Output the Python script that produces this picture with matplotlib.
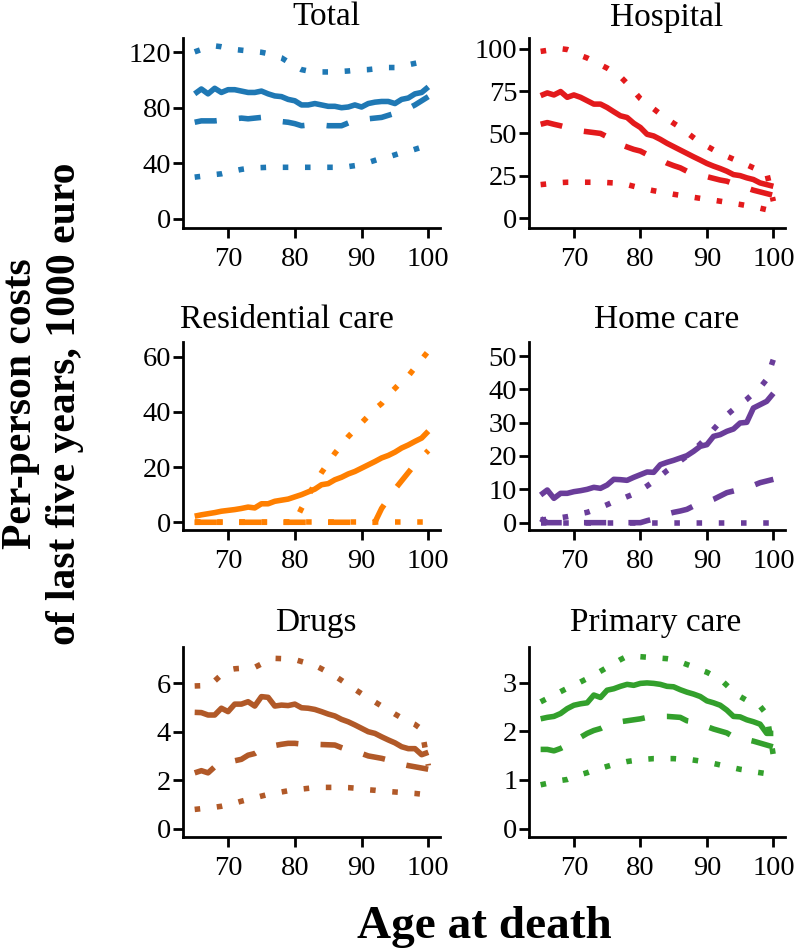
import numpy as np
import matplotlib
matplotlib.use('Agg')
import matplotlib.pyplot as plt

ages = np.arange(65, 101)

total_mean = [90, 93.5, 90, 94, 91, 93, 93, 92, 91, 91, 92, 90, 88.5, 88, 86, 85, 82, 82,
              83, 82, 81, 81, 80, 80.5, 82, 80.5, 83, 84, 84.5, 84.5, 83, 86, 87, 90, 91, 95]
total_median = [69.5, 70.5, 70.5, 70.5, 71, 71.5, 72, 72.5, 72, 72.5, 73, 72, 71, 70, 69.5, 68.5,
                67, 67.5, 68, 67.5, 67, 67, 67, 69, 71, 71.5, 72, 72.5, 73, 74.5, 76, 77.5, 79.5,
                82, 85, 88]
total_hi = [120.3, 122, 123.5, 124.6, 124, 123, 122, 121.5, 121, 120.5, 120, 119, 117.5, 116, 113,
            110, 107.5, 106.5, 106, 105.8, 105.8, 106, 106.2, 106.5, 107, 107.3, 107.5, 108, 108.5,
            109, 109, 110, 111, 112, 113, 113.5]
total_lo = [29.9, 30.5, 31.2, 31.8, 32.3, 33.5, 34.5, 35.5, 36.2, 36.6, 36.8, 37, 37, 37, 37, 37,
            37, 37, 37, 37, 37, 37, 37, 37.5, 38.2, 39, 40.5, 42, 43.5, 44.5, 46, 47.5, 48.5, 50,
            51.5, 53]

hosp_mean = [72.3, 73.9, 72.7, 74.7, 71.3, 72.7, 71.3, 69.3, 67.3, 67.3, 65.3, 62.8, 60.4, 59.4,
             56, 53.5, 49.5, 48.5, 46.5, 44.2, 42.2, 40.2, 38.2, 36.2, 34.3, 32.3, 30.7, 29.3, 27.7,
             25.7, 25.1, 23.8, 22.8, 20.8, 19.8, 18.8]
hosp_median = [55.4, 56.4, 55.4, 54.5, 53.5, 52.5, 51.5, 51, 50.5, 50, 48, 45.5, 43.5, 42, 40.6,
               39.6, 37.6, 36.2, 34.5, 32.5, 31, 29.7, 27.7, 26.7, 25.7, 24.5, 23.5, 22.5, 21.8,
               20.4, 19.2, 17.8, 16.5, 15.5, 14.5, 13.5]
hosp_hi = [98.4, 99, 99.5, 100, 99.5, 98, 96, 94.5, 92.5, 90.5, 88.5, 86, 83.5, 79.5, 75, 70.5,
           67.5, 64.5, 61.4, 58.7, 56, 53.5, 50.5, 47.5, 44.6, 42.5, 40.3, 38.2, 36.5, 34.8, 33.5,
           31.5, 29.7, 28, 26.7, 10]
hosp_lo = [19.8, 20.2, 20.6, 21, 21.2, 21.2, 21.2, 21.2, 21.2, 21, 21, 20.8, 20.5, 19.8, 18.8,
           17.8, 17, 16.2, 15.5, 14.8, 14.1, 13.5, 12.9, 12.3, 11.7, 11.1, 10.6, 10, 9.4, 8.7,
           8.1, 7.4, 6.7, 5.9, 5, 4]

resid_mean = [2.2, 2.7, 3.1, 3.5, 4, 4.3, 4.6, 5, 5.5, 5.2, 6.7, 6.7, 7.6, 8, 8.4, 9.2, 10, 11,
              12, 13.6, 14, 15.4, 16.3, 17.5, 18.4, 19.6, 20.8, 22, 23.3, 24.2, 25.4, 26.9, 28,
              29.3, 30.5, 33]
resid_median = [0, 0, 0, 0, 0, 0, 0, 0, 0, 0, 0, 0, 0, 0, 0, 0, 0, 0, 0, 0, 0, 0, 0, 0, 0, 0, 0,
                0, 5, 8.5, 12, 15, 18, 21, 23.5, 26]
resid_hi = [0, 0, 0, 0, 0, 0, 0, 0, 0, 0, 0, 0, 0, 0, 0, 0, 5, 9.5, 14, 18, 21.5, 25, 28, 31,
            33.5, 36, 38.5, 41, 43, 46, 48.5, 51, 53, 56, 59, 62]
resid_lo = [0] * 36

home_mean = [8.3, 9.8, 7.3, 8.8, 8.8, 9.3, 9.6, 10, 10.6, 10.3, 11.3, 13, 12.9, 12.7, 13.6, 14.4,
             15.2, 15.1, 17.4, 18.1, 18.7, 19.4, 20.1, 21.4, 22.9, 23.4, 25.9, 26.4, 27.4, 28.1,
             29.9, 30.1, 34.4, 35.4, 36.4, 38.8]
home_median = [1.2, 0, 0, 0, 0, 0, 0, 0, 0, 0, 0, 0, 0, 0, 0, 0, 0.6, 1.1, 1.7, 2.6, 3.1, 3.5,
               4, 5, 5.5, 6.2, 7, 8, 9, 9.5, 10, 10.6, 11.2, 12, 12.5, 13]
home_hi = [0.8, 1, 1.3, 1.5, 1.8, 2.2, 2.7, 3.1, 3.8, 4.6, 5.4, 6.3, 7, 7.8, 8.6, 9.7, 11, 12.4,
           14, 15.6, 17, 18.5, 20, 21.7, 23.6, 25.6, 28, 30.2, 32.3, 34, 35.5, 37, 38.8, 40.5, 43,
           49]
home_lo = [0] * 36

drug_mean = [4.8, 4.79, 4.69, 4.69, 4.97, 4.83, 5.14, 5.14, 5.24, 5.06, 5.45, 5.42, 5.06, 5.1,
             5.08, 5.14, 4.99, 4.97, 4.92, 4.83, 4.73, 4.65, 4.51, 4.41, 4.28, 4.14, 4.0, 3.93,
             3.79, 3.66, 3.54, 3.38, 3.3, 3.3, 3.05, 3.15]
drug_median = [2.3, 2.39, 2.3, 2.55, 2.65, 2.75, 2.8, 2.86, 3.03, 3.1, 3.27, 3.35, 3.43, 3.48,
               3.52, 3.52, 3.49, 3.49, 3.48, 3.47, 3.46, 3.45, 3.34, 3.24, 3.21, 3.1, 3.0, 2.95,
               2.9, 2.83, 2.76, 2.66, 2.6, 2.55, 2.5, 2.45]
drug_hi = [5.89, 5.9, 5.89, 6.1, 6.35, 6.55, 6.6, 6.62, 6.64, 6.66, 6.8, 6.98, 7.03, 7.02, 7.0,
           6.98, 6.9, 6.82, 6.74, 6.6, 6.45, 6.3, 6.12, 5.93, 5.75, 5.57, 5.4, 5.23, 5.06, 4.9,
           4.73, 4.57, 4.42, 4.3, 4.1, 2.6]
drug_lo = [0.79, 0.82, 0.85, 0.88, 0.92, 0.98, 1.05, 1.13, 1.2, 1.27, 1.34, 1.41, 1.46, 1.51,
           1.56, 1.59, 1.63, 1.66, 1.69, 1.7, 1.7, 1.7, 1.7, 1.69, 1.67, 1.63, 1.6, 1.58, 1.55,
           1.53, 1.51, 1.49, 1.47, 1.45, 1.42, 1.4]

prim_mean = [2.26, 2.29, 2.31, 2.37, 2.47, 2.54, 2.57, 2.59, 2.75, 2.7, 2.85, 2.88, 2.93, 2.97,
             2.95, 2.99, 3.0, 2.99, 2.97, 2.93, 2.92, 2.86, 2.81, 2.77, 2.72, 2.63, 2.59, 2.54,
             2.44, 2.31, 2.3, 2.24, 2.2, 2.15, 1.96, 1.96]
prim_median = [1.63, 1.63, 1.6, 1.65, 1.72, 1.8, 1.88, 1.96, 2.02, 2.06, 2.13, 2.17, 2.2, 2.22,
               2.24, 2.26, 2.29, 2.3, 2.31, 2.31, 2.3, 2.29, 2.22, 2.2, 2.15, 2.1, 2.05, 2.01,
               1.97, 1.89, 1.85, 1.83, 1.8, 1.76, 1.72, 1.68]
prim_hi = [2.61, 2.68, 2.75, 2.82, 2.89, 2.95, 3.02, 3.09, 3.16, 3.24, 3.32, 3.4, 3.48, 3.55,
           3.55, 3.54, 3.53, 3.52, 3.51, 3.5, 3.48, 3.43, 3.38, 3.33, 3.27, 3.22, 3.15, 3.08,
           2.95, 2.82, 2.72, 2.64, 2.57, 2.52, 2.35, 1.5]
prim_lo = [0.9, 0.93, 0.96, 0.99, 1.01, 1.06, 1.11, 1.15, 1.2, 1.24, 1.28, 1.32, 1.35, 1.38, 1.4,
           1.42, 1.43, 1.44, 1.44, 1.44, 1.44, 1.43, 1.43, 1.41, 1.39, 1.36, 1.34, 1.31, 1.28,
           1.25, 1.22, 1.2, 1.17, 1.15, 1.13, 1.1]

titles = ['Total', 'Hospital', 'Residential care', 'Home care', 'Drugs', 'Primary care']
colors = ['#1F78B4', '#E31A1C', '#FF7F00', '#6A3D9A', '#B15928', '#33A02C']
yticks = [[0, 40, 80, 120], [0, 25, 50, 75, 100], [0, 20, 40, 60],
          [0, 10, 20, 30, 40, 50], [0, 2, 4, 6], [0, 1, 2, 3]]
ylims = [(-6.8, 130.3), (-5.8, 106.3), (-2.8, 65.3), (-2.2, 54.2), (-0.35, 7.5), (-0.175, 3.74)]
series = [(total_mean, total_median, total_hi, total_lo),
          (hosp_mean, hosp_median, hosp_hi, hosp_lo),
          (resid_mean, resid_median, resid_hi, resid_lo),
          (home_mean, home_median, home_hi, home_lo),
          (drug_mean, drug_median, drug_hi, drug_lo),
          (prim_mean, prim_median, prim_hi, prim_lo)]

plt.rcParams['font.family'] = ['Liberation Serif', 'DejaVu Serif']

W, H = 800, 948
fig = plt.figure(figsize=(W / 100, H / 100), dpi=100)

# panel boxes in pixels: left, top, right, bottom
cols = [(183, 440), (529, 785)]
rows = [(38, 228), (342, 530), (647, 837)]
# title centres / baselines (pixels)
title_pos = [(326, 25), (667, 26), (287, 328), (667, 328), (316, 631), (656, 631)]

lw = 4.0
for i in range(6):
    x0, x1 = cols[i % 2]
    y0, y1 = rows[i // 2]
    ax = fig.add_axes([x0 / W, 1 - y1 / H, (x1 - x0) / W, (y1 - y0) / H])
    mean, median, hi, lo = series[i]
    c = colors[i]
    ax.plot(ages, lo, color=c, lw=lw, linestyle=(0, (1, 3)), dash_capstyle='butt')
    ax.plot(ages, hi, color=c, lw=lw, linestyle=(0, (1, 3)), dash_capstyle='butt')
    ax.plot(ages, median, color=c, lw=lw, linestyle=(0, (4, 4)), dash_capstyle='butt')
    ax.plot(ages, mean, color=c, lw=lw, solid_capstyle='butt', solid_joinstyle='round')
    ax.set_xlim(63.25, 101.75)
    ax.set_ylim(*ylims[i])
    ax.set_xticks([70, 80, 90, 100])
    ax.set_yticks(yticks[i])
    for s in ['top', 'right']:
        ax.spines[s].set_visible(False)
    for s in ['left', 'bottom']:
        ax.spines[s].set_linewidth(2)
    ax.tick_params(axis='both', width=2, length=7, labelsize=20.5, color='black')
    ax.tick_params(axis='x', pad=7)
    ax.tick_params(axis='y', pad=1.5)
    tx, ty = title_pos[i]
    fig.text(tx / W, 1 - ty / H, titles[i], ha='center', va='baseline', fontsize=24)

fig.text(43 / W, 1 - 404 / H, 'Per-person costs\nof last five years, 1000 euro', rotation=90,
         ha='center', va='center', ma='center', fontsize=30, fontweight='bold', linespacing=1.2)
fig.text(484 / W, 1 - 938 / H, 'Age at death', ha='center', va='baseline',
         fontsize=34, fontweight='bold')

fig.savefig('out.png', dpi=100)
